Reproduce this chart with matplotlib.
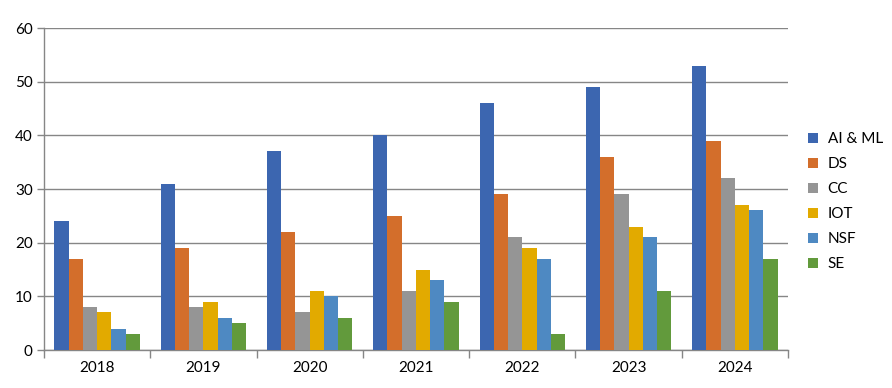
import numpy as np
import matplotlib.pyplot as plt

years = ["2018", "2019", "2020", "2021", "2022", "2023", "2024"]
series = ["AI & ML", "DS", "CC", "IOT", "NSF", "SE"]
ai_ml = [24, 31, 37, 40, 46, 49, 53]
ds = [17, 19, 22, 25, 29, 36, 39]
cc = [8, 8, 7, 11, 21, 29, 32]
iot = [7, 9, 11, 15, 19, 23, 27]
nsf = [4, 6, 10, 13, 17, 21, 26]
se = [3, 5, 6, 9, 3, 11, 17]
values = [ai_ml, ds, cc, iot, nsf, se]
colors = ["#3C66B0", "#D36E2B", "#959595", "#E2AA00", "#4E89C2", "#629A3C"]

plt.rcParams['font.family'] = ['Lato', 'DejaVu Sans']
grey = "#868686"

fig = plt.figure(figsize=(8.92, 3.88), dpi=100)
ax = fig.add_axes([0.0493, 0.0979, 0.8341, 0.8299])

x = np.arange(len(years))
w = 0.134
for i, (name, vals) in enumerate(zip(series, values)):
    ax.bar(x + (i - 2.5) * w, vals, width=w, color=colors[i], label=name, zorder=3)

ax.set_xlim(-0.5, len(years) - 0.5)
ax.set_ylim(0, 60)
ax.set_yticks(range(0, 61, 10))
ax.yaxis.grid(True, color=grey, linewidth=1, zorder=0)
ax.set_xticks(x)
ax.set_xticklabels(years)
ax.set_xticks(np.arange(-0.5, len(years)), minor=True)
ax.tick_params(axis='x', which='major', length=0, pad=8, labelsize=11)
ax.tick_params(axis='x', which='minor', length=6, color=grey, width=1)
ax.tick_params(axis='y', length=5, color=grey, width=1, labelsize=11, pad=3)

for s in ['top', 'right']:
    ax.spines[s].set_visible(False)
for s in ['left', 'bottom']:
    ax.spines[s].set_color(grey)
    ax.spines[s].set_linewidth(1)

ax.legend(loc='center left', bbox_to_anchor=(1.008, 0.46), frameon=False,
          fontsize=11, handlelength=0.7, handleheight=0.7, labelspacing=0.72,
          handletextpad=0.6, borderaxespad=0.5)

fig.savefig("out.png", dpi=100)
